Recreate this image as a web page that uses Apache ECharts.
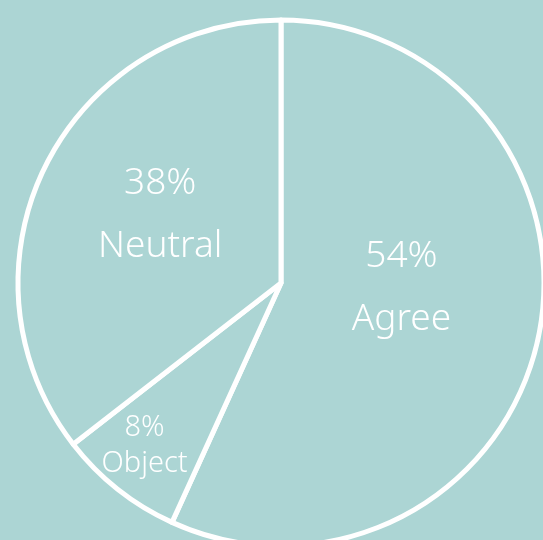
<!DOCTYPE html>
<html>
<head>
<meta charset="utf-8">
<script src="https://cdn.jsdelivr.net/npm/echarts@6/dist/echarts.min.js"></script>
<style>
  html, body { margin: 0; padding: 0; background: #acd5d4; }
  #chart { width: 543px; height: 540px; }
</style>
</head>
<body>
<div id="chart"></div>
<script>
  // slice names, drawn share of the circle, and the printed percentages
  var categories = ['Agree', 'Object', 'Neutral'];
  var sliceShares = [56.8, 7.7, 35.5];
  var labelTexts = ['54%', '8%', '38%'];

  var bg = '#acd5d4';
  // label nudges so text sits where the reference has it
  var labelOffsets = [[-11, -24], [-53, 57], [0, -9]];
  var bigLabel = {
    p: { fontSize: 37, lineHeight: 63, color: '#fff', fontFamily: 'Noto Sans', fontWeight: 300 },
    n: { fontSize: 37, lineHeight: 63, color: '#fff', fontFamily: 'Noto Sans', fontWeight: 300 }
  };
  var smallLabel = {
    p: { fontSize: 29, lineHeight: 36, color: '#fff', fontFamily: 'Noto Sans', fontWeight: 300 },
    n: { fontSize: 29, lineHeight: 36, color: '#fff', fontFamily: 'Noto Sans', fontWeight: 300 }
  };

  var chart = echarts.init(document.getElementById('chart'));

  var pieData = categories.map(function (name, i) {
    return {
      name: name,
      value: sliceShares[i],
      label: {
        offset: labelOffsets[i],
        rich: name === 'Object' ? smallLabel : bigLabel
      }
    };
  });

  chart.setOption({
    backgroundColor: bg,
    animation: false,
    series: [{
      type: 'pie',
      center: [281, 283],
      radius: [0, 263],
      startAngle: 90,
      clockwise: true,
      itemStyle: {
        color: bg,
        borderColor: '#ffffff',
        borderWidth: 5
      },
      emphasis: { disabled: true },
      labelLine: { show: false },
      label: {
        show: true,
        position: 'inside',
        formatter: function (p) {
          return '{p|' + labelTexts[p.dataIndex] + '}\n{n|' + p.name + '}';
        }
      },
      data: pieData
    }]
  });
</script>
</body>
</html>
